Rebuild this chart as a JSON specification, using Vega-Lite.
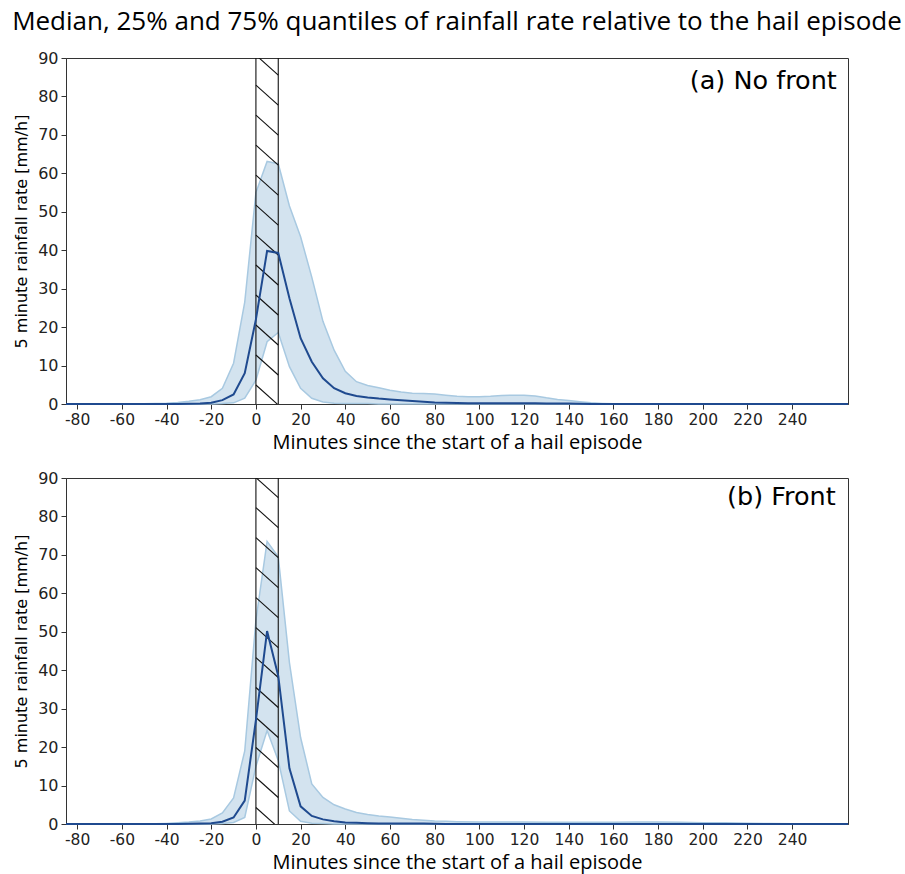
{
  "$schema": "https://vega.github.io/schema/vega-lite/v6.json",
  "background": "white",
  "padding": {"left": 12, "top": 8, "right": 5, "bottom": 2},
  "title": {"text": "Median, 25% and 75% quantiles of rainfall rate relative to the hail episode", "font": "Open Sans", "fontSize": 26, "fontWeight": "normal", "color": "#000", "anchor": "middle", "frame": "group", "offset": 15},
  "spacing": 16,
  "config": {
    "view": {"stroke": "#333", "strokeWidth": 1},
    "axis": {"grid": false, "domainColor": "#333", "tickColor": "#333", "tickSize": 5, "labelColor": "#222", "titleColor": "#000", "titleFontWeight": "normal"},
    "axisX": {"labelFont": "DejaVu Sans", "labelFontSize": 15.5, "titleFont": "Open Sans", "titleFontSize": 20, "labelPadding": 3, "titlePadding": 5},
    "axisY": {"labelFont": "DejaVu Sans", "labelFontSize": 16, "labelPadding": 3, "titleFont": "DejaVu Sans", "titleFontSize": 16, "titlePadding": 8}
  },
  "datasets": {
    "rain": [
      {"p":"a","t":-85,"lo":0,"med":0,"hi":0},
      {"p":"a","t":-80,"lo":0,"med":0,"hi":0},
      {"p":"a","t":-75,"lo":0,"med":0,"hi":0},
      {"p":"a","t":-70,"lo":0,"med":0,"hi":0},
      {"p":"a","t":-65,"lo":0,"med":0,"hi":0},
      {"p":"a","t":-60,"lo":0,"med":0,"hi":0},
      {"p":"a","t":-55,"lo":0,"med":0,"hi":0},
      {"p":"a","t":-50,"lo":0,"med":0,"hi":0.05},
      {"p":"a","t":-45,"lo":0,"med":0,"hi":0.1},
      {"p":"a","t":-40,"lo":0,"med":0,"hi":0.2},
      {"p":"a","t":-35,"lo":0,"med":0,"hi":0.4},
      {"p":"a","t":-30,"lo":0,"med":0.05,"hi":0.7},
      {"p":"a","t":-25,"lo":0,"med":0.1,"hi":1.1},
      {"p":"a","t":-20,"lo":0,"med":0.3,"hi":1.9},
      {"p":"a","t":-15,"lo":0.1,"med":1.0,"hi":4.1},
      {"p":"a","t":-10,"lo":0.3,"med":2.5,"hi":10.6},
      {"p":"a","t":-5,"lo":1.5,"med":8,"hi":26.5},
      {"p":"a","t":0,"lo":6.2,"med":22,"hi":55},
      {"p":"a","t":5,"lo":16.2,"med":39.8,"hi":63.1},
      {"p":"a","t":10,"lo":18.6,"med":39.3,"hi":62.5},
      {"p":"a","t":15,"lo":9.7,"med":27.5,"hi":51.5},
      {"p":"a","t":20,"lo":4.1,"med":17.1,"hi":43.5},
      {"p":"a","t":25,"lo":1.5,"med":11,"hi":33},
      {"p":"a","t":30,"lo":0.5,"med":6.7,"hi":21.5},
      {"p":"a","t":35,"lo":0.2,"med":4.1,"hi":14},
      {"p":"a","t":40,"lo":0.1,"med":2.8,"hi":8.5},
      {"p":"a","t":45,"lo":0.1,"med":2.1,"hi":5.8},
      {"p":"a","t":50,"lo":0.1,"med":1.7,"hi":4.8},
      {"p":"a","t":55,"lo":0,"med":1.4,"hi":4.2},
      {"p":"a","t":60,"lo":0,"med":1.2,"hi":3.6},
      {"p":"a","t":65,"lo":0,"med":1.0,"hi":3.1},
      {"p":"a","t":70,"lo":0,"med":0.8,"hi":2.8},
      {"p":"a","t":75,"lo":0,"med":0.6,"hi":2.7},
      {"p":"a","t":80,"lo":0,"med":0.4,"hi":2.6},
      {"p":"a","t":85,"lo":0,"med":0.3,"hi":2.3},
      {"p":"a","t":90,"lo":0,"med":0.25,"hi":2.0},
      {"p":"a","t":95,"lo":0,"med":0.2,"hi":1.9},
      {"p":"a","t":100,"lo":0,"med":0.2,"hi":1.9},
      {"p":"a","t":105,"lo":0,"med":0.2,"hi":2.0},
      {"p":"a","t":110,"lo":0,"med":0.2,"hi":2.2},
      {"p":"a","t":115,"lo":0,"med":0.2,"hi":2.3},
      {"p":"a","t":120,"lo":0,"med":0.2,"hi":2.3},
      {"p":"a","t":125,"lo":0,"med":0.2,"hi":2.1},
      {"p":"a","t":130,"lo":0,"med":0.15,"hi":1.6},
      {"p":"a","t":135,"lo":0,"med":0.1,"hi":1.2},
      {"p":"a","t":140,"lo":0,"med":0.1,"hi":0.9},
      {"p":"a","t":145,"lo":0,"med":0.05,"hi":0.6},
      {"p":"a","t":150,"lo":0,"med":0,"hi":0.3},
      {"p":"a","t":155,"lo":0,"med":0,"hi":0.15},
      {"p":"a","t":160,"lo":0,"med":0,"hi":0.05},
      {"p":"a","t":170,"lo":0,"med":0,"hi":0},
      {"p":"a","t":180,"lo":0,"med":0,"hi":0},
      {"p":"a","t":190,"lo":0,"med":0,"hi":0},
      {"p":"a","t":200,"lo":0,"med":0,"hi":0},
      {"p":"a","t":210,"lo":0,"med":0,"hi":0},
      {"p":"a","t":220,"lo":0,"med":0,"hi":0},
      {"p":"a","t":230,"lo":0,"med":0,"hi":0},
      {"p":"a","t":240,"lo":0,"med":0,"hi":0},
      {"p":"a","t":250,"lo":0,"med":0,"hi":0},
      {"p":"a","t":260,"lo":0,"med":0,"hi":0},
      {"p":"a","t":265,"lo":0,"med":0,"hi":0},
      {"p":"b","t":-85,"lo":0,"med":0,"hi":0},
      {"p":"b","t":-80,"lo":0,"med":0,"hi":0},
      {"p":"b","t":-70,"lo":0,"med":0,"hi":0},
      {"p":"b","t":-60,"lo":0,"med":0,"hi":0},
      {"p":"b","t":-50,"lo":0,"med":0,"hi":0},
      {"p":"b","t":-45,"lo":0,"med":0,"hi":0.05},
      {"p":"b","t":-40,"lo":0,"med":0,"hi":0.15},
      {"p":"b","t":-35,"lo":0,"med":0,"hi":0.3},
      {"p":"b","t":-30,"lo":0,"med":0.05,"hi":0.5},
      {"p":"b","t":-25,"lo":0,"med":0.1,"hi":0.8},
      {"p":"b","t":-20,"lo":0,"med":0.2,"hi":1.3},
      {"p":"b","t":-15,"lo":0.1,"med":0.6,"hi":2.9},
      {"p":"b","t":-10,"lo":0.4,"med":1.7,"hi":6.8},
      {"p":"b","t":-5,"lo":1.7,"med":6.1,"hi":19},
      {"p":"b","t":0,"lo":15,"med":27,"hi":53},
      {"p":"b","t":5,"lo":24.3,"med":50.2,"hi":73.5},
      {"p":"b","t":10,"lo":16.5,"med":38.5,"hi":69.5},
      {"p":"b","t":15,"lo":3.4,"med":14.5,"hi":42},
      {"p":"b","t":20,"lo":0.7,"med":4.6,"hi":22.5},
      {"p":"b","t":25,"lo":0.2,"med":2.1,"hi":10.4},
      {"p":"b","t":30,"lo":0.1,"med":1.2,"hi":6.9},
      {"p":"b","t":35,"lo":0,"med":0.7,"hi":5.0},
      {"p":"b","t":40,"lo":0,"med":0.4,"hi":3.9},
      {"p":"b","t":45,"lo":0,"med":0.3,"hi":3.0},
      {"p":"b","t":50,"lo":0,"med":0.2,"hi":2.5},
      {"p":"b","t":55,"lo":0,"med":0.15,"hi":2.1},
      {"p":"b","t":60,"lo":0,"med":0.1,"hi":1.8},
      {"p":"b","t":65,"lo":0,"med":0.1,"hi":1.5},
      {"p":"b","t":70,"lo":0,"med":0.1,"hi":1.2},
      {"p":"b","t":75,"lo":0,"med":0.1,"hi":1.0},
      {"p":"b","t":80,"lo":0,"med":0.05,"hi":0.8},
      {"p":"b","t":85,"lo":0,"med":0,"hi":0.7},
      {"p":"b","t":90,"lo":0,"med":0,"hi":0.6},
      {"p":"b","t":100,"lo":0,"med":0,"hi":0.5},
      {"p":"b","t":110,"lo":0,"med":0,"hi":0.5},
      {"p":"b","t":120,"lo":0,"med":0,"hi":0.5},
      {"p":"b","t":130,"lo":0,"med":0,"hi":0.45},
      {"p":"b","t":140,"lo":0,"med":0,"hi":0.45},
      {"p":"b","t":150,"lo":0,"med":0,"hi":0.45},
      {"p":"b","t":160,"lo":0,"med":0,"hi":0.45},
      {"p":"b","t":170,"lo":0,"med":0,"hi":0.5},
      {"p":"b","t":180,"lo":0,"med":0,"hi":0.5},
      {"p":"b","t":190,"lo":0,"med":0,"hi":0.45},
      {"p":"b","t":200,"lo":0,"med":0,"hi":0.35},
      {"p":"b","t":210,"lo":0,"med":0,"hi":0.3},
      {"p":"b","t":220,"lo":0,"med":0,"hi":0.2},
      {"p":"b","t":230,"lo":0,"med":0,"hi":0.1},
      {"p":"b","t":240,"lo":0,"med":0,"hi":0.05},
      {"p":"b","t":250,"lo":0,"med":0,"hi":0},
      {"p":"b","t":260,"lo":0,"med":0,"hi":0},
      {"p":"b","t":265,"lo":0,"med":0,"hi":0}
    ],
    "hatch": [
      {"p":"a","x1":0,"x2":0,"y1":0,"y2":90},
      {"p":"a","x1":10,"x2":10,"y1":0,"y2":90},
      {"p":"a","x1":0,"x2":10,"y1":4.95,"y2":-0.25},
      {"p":"a","x1":0,"x2":10,"y1":12.75,"y2":7.55},
      {"p":"a","x1":0,"x2":10,"y1":20.55,"y2":15.35},
      {"p":"a","x1":0,"x2":10,"y1":28.35,"y2":23.15},
      {"p":"a","x1":0,"x2":10,"y1":36.15,"y2":30.95},
      {"p":"a","x1":0,"x2":10,"y1":43.95,"y2":38.75},
      {"p":"a","x1":0,"x2":10,"y1":51.75,"y2":46.55},
      {"p":"a","x1":0,"x2":10,"y1":59.55,"y2":54.35},
      {"p":"a","x1":0,"x2":10,"y1":67.35,"y2":62.15},
      {"p":"a","x1":0,"x2":10,"y1":75.15,"y2":69.95},
      {"p":"a","x1":0,"x2":10,"y1":82.95,"y2":77.75},
      {"p":"a","x1":0,"x2":10,"y1":90.75,"y2":85.55},
      {"p":"b","x1":0,"x2":0,"y1":0,"y2":90},
      {"p":"b","x1":10,"x2":10,"y1":0,"y2":90},
      {"p":"b","x1":0,"x2":10,"y1":4.3,"y2":-0.9},
      {"p":"b","x1":0,"x2":10,"y1":12.1,"y2":6.9},
      {"p":"b","x1":0,"x2":10,"y1":19.9,"y2":14.7},
      {"p":"b","x1":0,"x2":10,"y1":27.7,"y2":22.5},
      {"p":"b","x1":0,"x2":10,"y1":35.5,"y2":30.3},
      {"p":"b","x1":0,"x2":10,"y1":43.3,"y2":38.1},
      {"p":"b","x1":0,"x2":10,"y1":51.1,"y2":45.9},
      {"p":"b","x1":0,"x2":10,"y1":58.9,"y2":53.7},
      {"p":"b","x1":0,"x2":10,"y1":66.7,"y2":61.5},
      {"p":"b","x1":0,"x2":10,"y1":74.5,"y2":69.3},
      {"p":"b","x1":0,"x2":10,"y1":82.3,"y2":77.1},
      {"p":"b","x1":0,"x2":10,"y1":90.1,"y2":84.9}
    ]
  },
  "vconcat": [
    {
      "width": 782, "height": 346,
      "layer": [
        {
          "data": {"name": "rain"},
          "transform": [{"filter": "datum.p === 'a'"}],
          "mark": {"type": "area", "fill": "#d3e3ef", "fillOpacity": 1, "stroke": "#a8c9e1", "strokeWidth": 1.5},
          "encoding": {
            "x": {"field": "t", "type": "quantitative", "scale": {"domain": [-85, 265], "nice": false, "zero": false},
                  "axis": {"values": [-80,-60,-40,-20,0,20,40,60,80,100,120,140,160,180,200,220,240], "labelExpr": "'' + datum.value", "title": "Minutes since the start of a hail episode"}},
            "y": {"field": "lo", "type": "quantitative", "scale": {"domain": [0, 90], "nice": false},
                  "axis": {"values": [0,10,20,30,40,50,60,70,80,90], "title": "5 minute rainfall rate [mm/h]"}},
            "y2": {"field": "hi"}
          }
        },
        {
          "data": {"name": "hatch"},
          "transform": [{"filter": "datum.p === 'a'"}],
          "mark": {"type": "rule", "color": "#111", "strokeWidth": 1.1, "clip": true},
          "encoding": {
            "x": {"field": "x1", "type": "quantitative",
                  "axis": {"values": [-80,-60,-40,-20,0,20,40,60,80,100,120,140,160,180,200,220,240], "labelExpr": "'' + datum.value", "title": "Minutes since the start of a hail episode"}},
            "x2": {"field": "x2"},
            "y": {"field": "y1", "type": "quantitative",
                  "axis": {"values": [0,10,20,30,40,50,60,70,80,90], "title": "5 minute rainfall rate [mm/h]"}},
            "y2": {"field": "y2"}
          }
        },
        {
          "data": {"name": "rain"},
          "transform": [{"filter": "datum.p === 'a'"}],
          "mark": {"type": "line", "color": "#1f4a8f", "strokeWidth": 2},
          "encoding": {
            "x": {"field": "t", "type": "quantitative",
                  "axis": {"values": [-80,-60,-40,-20,0,20,40,60,80,100,120,140,160,180,200,220,240], "labelExpr": "'' + datum.value", "title": "Minutes since the start of a hail episode"}},
            "y": {"field": "med", "type": "quantitative",
                  "axis": {"values": [0,10,20,30,40,50,60,70,80,90], "title": "5 minute rainfall rate [mm/h]"}}
          }
        },
        {
          "data": {"values": [{"label": "(a) No front", "lx": 260, "ly": 84}]},
          "mark": {"type": "text", "align": "right", "baseline": "middle", "font": "DejaVu Sans", "fontSize": 25.5, "color": "#000"},
          "encoding": {
            "x": {"field": "lx", "type": "quantitative",
                  "axis": {"values": [-80,-60,-40,-20,0,20,40,60,80,100,120,140,160,180,200,220,240], "labelExpr": "'' + datum.value", "title": "Minutes since the start of a hail episode"}},
            "y": {"field": "ly", "type": "quantitative",
                  "axis": {"values": [0,10,20,30,40,50,60,70,80,90], "title": "5 minute rainfall rate [mm/h]"}},
            "text": {"field": "label"}
          }
        }
      ]
    },
    {
      "width": 782, "height": 346,
      "layer": [
        {
          "data": {"name": "rain"},
          "transform": [{"filter": "datum.p === 'b'"}],
          "mark": {"type": "area", "fill": "#d3e3ef", "fillOpacity": 1, "stroke": "#a8c9e1", "strokeWidth": 1.5},
          "encoding": {
            "x": {"field": "t", "type": "quantitative", "scale": {"domain": [-85, 265], "nice": false, "zero": false},
                  "axis": {"values": [-80,-60,-40,-20,0,20,40,60,80,100,120,140,160,180,200,220,240], "labelExpr": "'' + datum.value", "title": "Minutes since the start of a hail episode"}},
            "y": {"field": "lo", "type": "quantitative", "scale": {"domain": [0, 90], "nice": false},
                  "axis": {"values": [0,10,20,30,40,50,60,70,80,90], "title": "5 minute rainfall rate [mm/h]"}},
            "y2": {"field": "hi"}
          }
        },
        {
          "data": {"name": "hatch"},
          "transform": [{"filter": "datum.p === 'b'"}],
          "mark": {"type": "rule", "color": "#111", "strokeWidth": 1.1, "clip": true},
          "encoding": {
            "x": {"field": "x1", "type": "quantitative",
                  "axis": {"values": [-80,-60,-40,-20,0,20,40,60,80,100,120,140,160,180,200,220,240], "labelExpr": "'' + datum.value", "title": "Minutes since the start of a hail episode"}},
            "x2": {"field": "x2"},
            "y": {"field": "y1", "type": "quantitative",
                  "axis": {"values": [0,10,20,30,40,50,60,70,80,90], "title": "5 minute rainfall rate [mm/h]"}},
            "y2": {"field": "y2"}
          }
        },
        {
          "data": {"name": "rain"},
          "transform": [{"filter": "datum.p === 'b'"}],
          "mark": {"type": "line", "color": "#1f4a8f", "strokeWidth": 2},
          "encoding": {
            "x": {"field": "t", "type": "quantitative",
                  "axis": {"values": [-80,-60,-40,-20,0,20,40,60,80,100,120,140,160,180,200,220,240], "labelExpr": "'' + datum.value", "title": "Minutes since the start of a hail episode"}},
            "y": {"field": "med", "type": "quantitative",
                  "axis": {"values": [0,10,20,30,40,50,60,70,80,90], "title": "5 minute rainfall rate [mm/h]"}}
          }
        },
        {
          "data": {"values": [{"label": "(b) Front", "lx": 259.5, "ly": 85}]},
          "mark": {"type": "text", "align": "right", "baseline": "middle", "font": "DejaVu Sans", "fontSize": 25.5, "color": "#000"},
          "encoding": {
            "x": {"field": "lx", "type": "quantitative",
                  "axis": {"values": [-80,-60,-40,-20,0,20,40,60,80,100,120,140,160,180,200,220,240], "labelExpr": "'' + datum.value", "title": "Minutes since the start of a hail episode"}},
            "y": {"field": "ly", "type": "quantitative",
                  "axis": {"values": [0,10,20,30,40,50,60,70,80,90], "title": "5 minute rainfall rate [mm/h]"}},
            "text": {"field": "label"}
          }
        }
      ]
    }
  ]
}
